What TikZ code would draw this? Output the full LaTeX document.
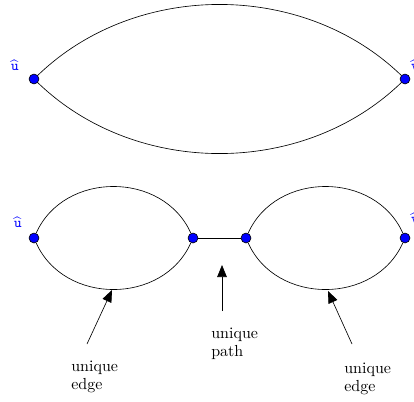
\documentclass[tikz,border=0pt]{standalone}
\usepackage{amsmath}
\usetikzlibrary{arrows.meta}
\tikzset{
  x=0.625pt,y=-0.625pt,
  vtx/.style={circle,draw=black,fill=blue,line width=0.4pt,inner sep=0pt,minimum size=6.2pt},
  hat/.style={text=blue,font=\small,inner sep=0pt},
  edgeline/.style={draw=black,line width=0.4pt},
  ptr/.style={draw=black,line width=0.4pt,-{Triangle[length=7.5pt,width=6pt]}},
  note/.style={align=left,anchor=north west,inner sep=0pt,font=\fontsize{10}{11}\selectfont}
}
\begin{document}
\begin{tikzpicture}
\useasboundingbox (0,0) rectangle (414,401);
\clip (0,0) rectangle (414,401);
\node[vtx] (a) at (34,79) {};
\node[vtx] (b) at (405,79) {};
\node[hat] (al) at (15,65) {$\widehat{\mathtt{u}}$};
\node[hat] (bl) at (415,65) {$\widehat{\mathtt{v}}$};
\draw[edgeline] (a) to[bend left=44,looseness=0.96] (b);
\draw[edgeline] (a) to[bend right=44,looseness=0.96] (b);
\node[vtx] (c) at (34,238) {};
\node[vtx] (d) at (193,238) {};
\node[vtx] (e) at (246,238) {};
\node[vtx] (f) at (405,238) {};
\node[hat] (cl) at (18,222) {$\widehat{\mathtt{u}}$};
\node[hat] (fl) at (415,218) {$\widehat{\mathtt{v}}$};
\draw[edgeline] (c) to[bend left=66,looseness=1.13] (d);
\draw[edgeline] (c) to[bend right=66,looseness=1.13] (d);
\draw[edgeline] (d) -- (e);
\draw[edgeline] (e) to[bend left=66,looseness=1.13] (f);
\draw[edgeline] (e) to[bend right=66,looseness=1.13] (f);
\coordinate (t1) at (112,290);
\coordinate (s1) at (87,344);
\coordinate (t2) at (222,265);
\coordinate (s2) at (222,311);
\coordinate (t3) at (328,291);
\coordinate (s3) at (352,344);
\draw[ptr] (s1) -- (t1);
\draw[ptr] (s2) -- (t2);
\draw[ptr] (s3) -- (t3);
\node[note] (n1) at (71,361) {unique\\edge};
\node[note] (n2) at (211,328) {unique\\path};
\node[note] (n3) at (344,363) {unique\\edge};
\end{tikzpicture}
\end{document}
